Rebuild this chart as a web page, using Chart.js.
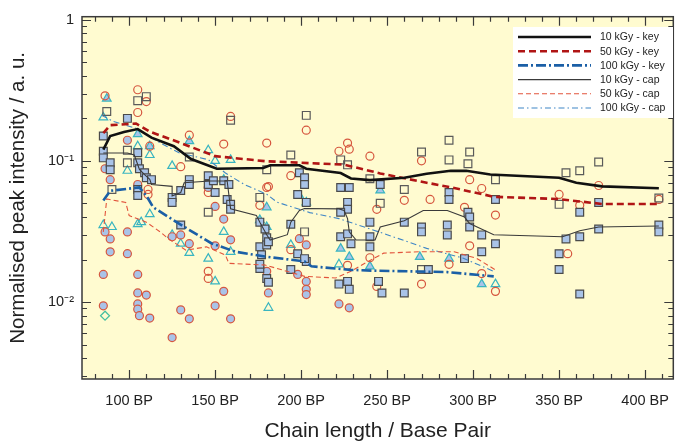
<!DOCTYPE html>
<html lang="en">
<head>
<meta charset="UTF-8" />
<title>Peak intensity vs chain length</title>
<script src="https://cdn.jsdelivr.net/npm/chart.js@4.4.1/dist/chart.umd.min.js"></script>
<style>
  body { margin: 0; background: #fff; }
</style>
</head>
<body>
<canvas id="chart" width="680" height="445"></canvas>
<script>
// trend lines [BP, intensity]
const key10 = [[85,0.12],[89,0.15],[97,0.16],[105,0.168],[113,0.146],[126,0.127],[136,0.103],[151,0.088],[178,0.089],[182,0.093],[199,0.093],[203,0.088],[223,0.082],[229,0.075],[240,0.073],[260,0.076],[273,0.081],[287,0.085],[296,0.085],[310,0.080],[350,0.076],[360,0.070],[375,0.066],[408,0.064]];
const key50 = [[85,0.157],[89,0.179],[104,0.184],[112,0.161],[125,0.141],[150,0.108],[179,0.0995],[225,0.094],[246,0.0815],[273,0.070],[287,0.065],[312,0.0557],[350,0.0536],[375,0.0495],[408,0.0495]];
const key100 = [[85,0.0523],[89,0.0614],[106,0.0648],[110,0.0567],[114,0.0469],[129,0.0359],[148,0.026],[162,0.0227],[179,0.021],[202,0.0194],[206,0.0179],[229,0.0169],[241,0.0167],[285,0.0163],[312,0.0152]];
const cap10 = [[85,0.1137],[99,0.1137],[103,0.110],[106,0.087],[109,0.080],[112,0.074],[113,0.068],[125,0.066],[125,0.0565],[130,0.0597],[132,0.070],[147,0.072],[157,0.072],[159,0.0457],[174,0.041],[176,0.0368],[180,0.030],[182,0.0275],[192,0.030],[194,0.0368],[199,0.0445],[202,0.046],[222,0.0457],[225,0.0445],[227,0.039],[228,0.0314],[232,0.0275],[243,0.0275],[246,0.034],[260,0.0377],[271,0.0445],[285,0.0445],[295,0.040],[298,0.036],[312,0.030],[352,0.029],[362,0.032],[373,0.034],[408,0.0346]];
const cap50 = [[85,0.0314],[87,0.0537],[98,0.0508],[100,0.041],[110,0.0368],[118,0.0314],[123,0.028],[133,0.0233],[145,0.0246],[156,0.0215],[158,0.0188],[179,0.0183],[202,0.0152],[220,0.0148],[229,0.0165],[239,0.0194],[248,0.0222],[269,0.0227],[289,0.0227],[302,0.0204],[313,0.0169]];
const cap100 = [[84,0.21],[91,0.19],[104,0.17],[118,0.134],[129,0.114],[146,0.102],[156,0.082],[167,0.068],[180,0.058],[186,0.051],[205,0.043],[222,0.039],[250,0.030],[273,0.024],[294,0.0205],[312,0.0165]];

// measured points [BP, intensity]
const squaresFilled = [[85,0.150],[85,0.117],[85,0.105],[89,0.0968],[89,0.0865],[99,0.200],[105,0.114],[105,0.0968],[106,0.0879],[109,0.0824],[110,0.076],[113,0.0736],[105,0.0627],[105,0.0569],[125,0.0551],[125,0.0508],[130,0.0617],[130,0.0351],[135,0.0736],[135,0.068],[146,0.0785],[146,0.068],[149,0.0724],[150,0.0597],[155,0.0724],[157,0.0533],[159,0.0492],[159,0.0454],[158,0.068],[176,0.0246],[177,0.0216],[180,0.0285],[180,0.0254],[180,0.0147],[181,0.0138],[176,0.0173],[176,0.0185],[176,0.0368],[179,0.0329],[181,0.0267],[194,0.0356],[194,0.017],[198,0.022],[198,0.0578],[199,0.0824],[202,0.076],[202,0.068],[203,0.0508],[203,0.0194],[202,0.0203],[223,0.0648],[228,0.0648],[227,0.0508],[227,0.0454],[223,0.0433],[223,0.029],[227,0.0304],[229,0.0259],[227,0.014],[228,0.0123],[222,0.0134],[240,0.0368],[240,0.029],[240,0.0246],[246,0.068],[245,0.014],[247,0.0116],[260,0.0368],[260,0.0116],[270,0.034],[270,0.0314],[274,0.017],[286,0.0597],[286,0.0533],[285,0.0351],[285,0.0299],[297,0.0433],[298,0.040],[298,0.034],[295,0.0203],[305,0.0299],[305,0.0227],[313,0.0533],[313,0.0259],[350,0.022],[350,0.017],[354,0.028],[362,0.029],[362,0.0433],[362,0.0114],[373,0.0508],[373,0.0329],[408,0.0351],[408,0.0314]];
const squaresOpen = [[87,0.224],[105,0.267],[110,0.285],[159,0.194],[203,0.210],[194,0.110],[180,0.0865],[223,0.1016],[227,0.0937],[99,0.0968],[99,0.119],[135,0.1066],[286,0.140],[270,0.1156],[298,0.1156],[286,0.1016],[297,0.0953],[240,0.0748],[260,0.0627],[313,0.0736],[354,0.0824],[362,0.0851],[373,0.0983],[350,0.0492],[246,0.050],[270,0.017],[90,0.0627],[146,0.0433],[176,0.0551],[202,0.0314],[408,0.0545]];
const circlesOpen = [[86,0.289],[105,0.319],[110,0.263],[105,0.220],[159,0.2065],[135,0.152],[155,0.1315],[180,0.1336],[203,0.165],[222,0.117],[227,0.1336],[228,0.121],[112,0.127],[130,0.091],[194,0.0785],[181,0.0658],[146,0.0597],[240,0.108],[270,0.100],[260,0.0525],[244,0.0454],[275,0.0533],[295,0.0469],[298,0.0736],[313,0.0413],[305,0.0637],[350,0.0578],[362,0.0484],[373,0.0669],[408,0.0533],[355,0.022],[176,0.0484],[111,0.0627],[111,0.0578],[105,0.0617],[180,0.0648],[146,0.0165],[146,0.0147],[194,0.0235],[227,0.0182],[270,0.0134],[298,0.025],[240,0.0206],[286,0.0185],[305,0.0159],[313,0.0119],[244,0.0129]];
const circlesFilled = [[86,0.0879],[89,0.0736],[99,0.140],[105,0.068],[146,0.0648],[150,0.0476],[155,0.0387],[86,0.0314],[89,0.028],[89,0.0227],[99,0.0314],[99,0.022],[85,0.0157],[85,0.0094],[105,0.0157],[105,0.0116],[110,0.0112],[105,0.0097],[105,0.0089],[106,0.008],[112,0.0077],[125,0.0056],[130,0.0088],[135,0.0076],[130,0.0299],[135,0.0259],[125,0.029],[150,0.0094],[155,0.0119],[159,0.0276],[159,0.0076],[180,0.0165],[181,0.0116],[150,0.025],[199,0.0281],[203,0.0254],[198,0.0157],[203,0.014],[203,0.0123],[203,0.0113],[222,0.0097],[228,0.0091]];
const trianglesOpen = [[85,0.203],[105,0.127],[112,0.110],[99,0.0851],[125,0.0922],[146,0.119],[150,0.100],[159,0.1016],[155,0.0736],[85,0.0351],[90,0.034],[105,0.0356],[112,0.0419],[107,0.0368],[125,0.0299],[130,0.0259],[135,0.0223],[146,0.0203],[150,0.014],[155,0.0314],[159,0.0227],[181,0.0091],[194,0.0254],[313,0.0134],[222,0.0185]];
const trianglesFilled = [[87,0.276],[105,0.1545],[112,0.127],[135,0.138],[246,0.0617],[199,0.0566],[203,0.0508],[180,0.0469],[176,0.0381],[180,0.034],[269,0.0209],[286,0.0203],[240,0.0179],[305,0.0134],[223,0.0239],[228,0.0209]];
const diamonds = [[86,0.008]];

const lineLabels = ['10 kGy - key', '50 kGy - key', '100 kGy - key', '10 kGy - cap', '50 kGy - cap', '100 kGy - cap'];
const xLabelValues = [100, 150, 200, 250, 300, 350, 400];
const yLabels = { 1: '1', 0.1: '10\u207B\u00B9', 0.01: '10\u207B\u00B2' };

const pts = arr => arr.map(p => ({ x: p[0], y: p[1] }));
const fillBlue = '#a9c3e8';
const fontFamily = '"Liberation Sans", Arial, sans-serif';

function lineSet(label, data, color, width, dash) {
    return { label, data: pts(data), showLine: true, borderColor: color, borderWidth: width,
             borderDash: dash, pointRadius: 0, fill: false, order: 0, isTrend: true };
}
function markSet(data, style, radius, border, fill) {
    return { data: pts(data), pointStyle: style, pointRadius: radius, borderColor: border,
             backgroundColor: fill, pointBorderWidth: 1.2, showLine: false, order: 1 };
}

const frame = {
    id: 'frame',
    beforeDraw(chart) {
        const { ctx, chartArea: a } = chart;
        ctx.save();
        ctx.fillStyle = '#fffbd0';
        ctx.fillRect(a.left, a.top, a.right - a.left, a.bottom - a.top);
        ctx.restore();
    },
    afterDraw(chart) {
        const { ctx, chartArea: a, scales: { x, y } } = chart;
        ctx.save();
        ctx.strokeStyle = '#3a3a3a';
        ctx.lineWidth = 1.2;
        ctx.beginPath();
        x.ticks.forEach(t => {
            const px = Math.round(x.getPixelForValue(t.value)) + 0.5;
            const len = t.value % 50 === 0 ? 9 : 5;
            ctx.moveTo(px, a.bottom); ctx.lineTo(px, a.bottom - len);
            ctx.moveTo(px, a.top); ctx.lineTo(px, a.top + len);
        });
        y.ticks.forEach(t => {
            const py = Math.round(y.getPixelForValue(t.value)) + 0.5;
            const len = yLabels[t.value] ? 9 : 5;
            ctx.moveTo(a.left, py); ctx.lineTo(a.left + len, py);
            ctx.moveTo(a.right, py); ctx.lineTo(a.right - len, py);
        });
        ctx.stroke();
        ctx.lineWidth = 1.5;
        ctx.strokeRect(a.left, a.top, a.right - a.left, a.bottom - a.top);

        // legend box
        const lx = 513, ly = 27, lw = 160, lh = 91;
        ctx.fillStyle = '#ffffff';
        ctx.fillRect(lx, ly, lw, lh);
        ctx.font = '10.5px ' + fontFamily;
        ctx.textBaseline = 'middle';
        const trends = chart.data.datasets.filter(d => d.isTrend);
        trends.forEach((d, i) => {
            const ry = ly + 10 + i * 14.2;
            ctx.strokeStyle = d.borderColor;
            ctx.lineWidth = d.borderWidth;
            ctx.setLineDash(d.borderDash || []);
            ctx.beginPath();
            ctx.moveTo(lx + 5, ry); ctx.lineTo(lx + 78, ry);
            ctx.stroke();
            ctx.setLineDash([]);
            ctx.fillStyle = '#222';
            ctx.fillText(d.label, lx + 87, ry + 0.5);
        });
        ctx.restore();
    }
};

const ctx = document.getElementById('chart').getContext('2d');
new Chart(ctx, {
    type: 'scatter',
    data: {
        datasets: [
            lineSet(lineLabels[0], key10, '#111111', 2.6, []),
            lineSet(lineLabels[1], key50, '#b01515', 2.6, [7, 4]),
            lineSet(lineLabels[2], key100, '#1b5fa6', 2.6, [10, 3, 2, 3]),
            lineSet(lineLabels[3], cap10, '#3a3a3a', 1.1, []),
            lineSet(lineLabels[4], cap50, '#e2543c', 1.1, [5, 3]),
            lineSet(lineLabels[5], cap100, '#3f86c6', 1.1, [6, 3, 1.5, 3]),
            markSet(squaresFilled, 'rect', 5.5, '#4a4a4a', fillBlue),
            markSet(squaresOpen, 'rect', 5.5, '#5a5a5a', 'rgba(0,0,0,0)'),
            markSet(circlesFilled, 'circle', 4, '#d6573f', fillBlue),
            markSet(circlesOpen, 'circle', 4, '#d6573f', 'rgba(0,0,0,0)'),
            markSet(trianglesFilled, 'triangle', 5, '#39b5c0', fillBlue),
            markSet(trianglesOpen, 'triangle', 5, '#39b5c0', 'rgba(0,0,0,0)'),
            markSet(diamonds, 'rectRot', 4.5, '#45bf9f', 'rgba(0,0,0,0)')
        ]
    },
    options: {
        responsive: false,
        animation: false,
        events: [],
        layout: { padding: { top: 12, right: 2, left: 0, bottom: 0 } },
        plugins: { legend: { display: false }, tooltip: { enabled: false } },
        scales: {
            x: {
                type: 'linear',
                min: 72.6,
                max: 416.4,
                grid: { display: false, drawTicks: false },
                border: { display: false },
                afterBuildTicks(scale) {
                    const t = [];
                    for (let v = 80; v <= 410; v += 10) t.push({ value: v });
                    scale.ticks = t;
                },
                afterFit(scale) { scale.height = 66; },
                ticks: {
                    autoSkip: false,
                    maxRotation: 0,
                    padding: 13,
                    color: '#222',
                    font: { family: fontFamily, size: 14.5 },
                    callback: v => xLabelValues.includes(v) ? v + ' BP' : ''
                },
                title: {
                    display: true,
                    text: 'Chain length / Base Pair',
                    color: '#222',
                    font: { family: fontFamily, size: 21 },
                    padding: { top: 0, bottom: 1 }
                }
            },
            y: {
                type: 'logarithmic',
                min: 0.00285,
                max: 1.05,
                grid: { display: false, drawTicks: false },
                border: { display: false },
                afterBuildTicks(scale) {
                    const t = [];
                    [0.001, 0.01, 0.1].forEach(d => {
                        for (let k = 1; k <= 9; k++) {
                            const v = parseFloat((d * k).toPrecision(3));
                            if (v >= scale.min && v <= scale.max) t.push({ value: v });
                        }
                    });
                    t.push({ value: 1 });
                    scale.ticks = t;
                },
                afterFit(scale) { scale.width = 82; },
                ticks: {
                    autoSkip: false,
                    padding: 8,
                    color: '#222',
                    font: { family: fontFamily, size: 14.5 },
                    callback: v => yLabels[v] || ''
                },
                title: {
                    display: true,
                    text: 'Normalised peak intensity / a. u.',
                    color: '#222',
                    font: { family: fontFamily, size: 20.5 },
                    padding: { top: 6, bottom: 0 }
                }
            }
        }
    },
    plugins: [frame]
});
</script>
</body>
</html>
